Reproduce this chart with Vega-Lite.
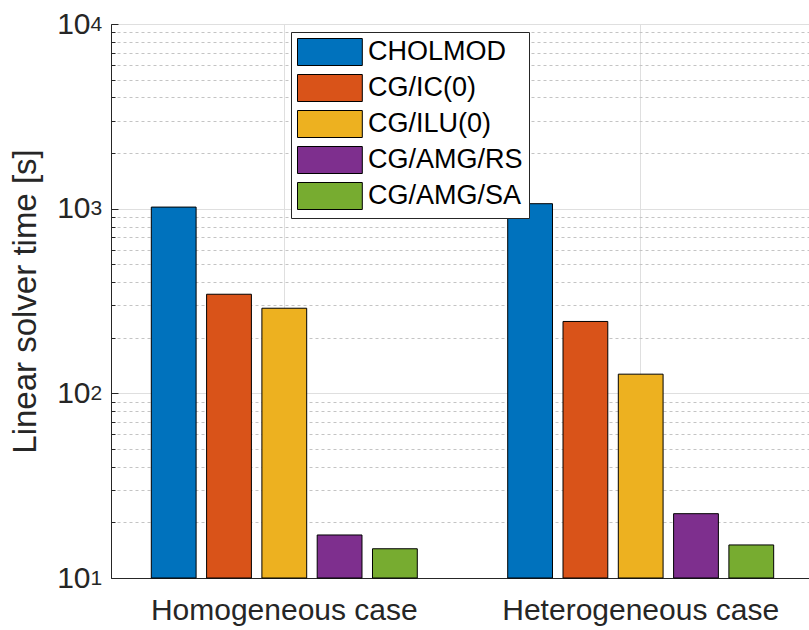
{
  "$schema": "https://vega.github.io/schema/vega-lite/v6.json",
  "width": 698,
  "height": 554,
  "autosize": {"type": "none"},
  "padding": {"left": 111, "top": 24, "right": 0, "bottom": 52},
  "background": "#ffffff",
  "config": {
    "font": "Liberation Sans",
    "view": {"stroke": "#262626", "strokeWidth": 1}
  },
  "data": {
    "values": [
      {"case": "Homogeneous case", "solver": "CHOLMOD", "time": 1020},
      {"case": "Homogeneous case", "solver": "CG/IC(0)", "time": 344},
      {"case": "Homogeneous case", "solver": "CG/ILU(0)", "time": 289},
      {"case": "Homogeneous case", "solver": "CG/AMG/RS", "time": 17.1},
      {"case": "Homogeneous case", "solver": "CG/AMG/SA", "time": 14.4},
      {"case": "Heterogeneous case", "solver": "CHOLMOD", "time": 1064},
      {"case": "Heterogeneous case", "solver": "CG/IC(0)", "time": 245},
      {"case": "Heterogeneous case", "solver": "CG/ILU(0)", "time": 127},
      {"case": "Heterogeneous case", "solver": "CG/AMG/RS", "time": 22.3},
      {"case": "Heterogeneous case", "solver": "CG/AMG/SA", "time": 15.1}
    ]
  },
  "encoding": {
    "x": {
      "field": "case",
      "type": "nominal",
      "sort": ["Homogeneous case", "Heterogeneous case"],
      "scale": {"paddingInner": 0.2537, "paddingOuter": 0.1061, "align": 0.533},
      "axis": {
        "title": null,
        "labelAngle": 0,
        "labelFontSize": 30,
        "labelLimit": 0,
        "labelColor": "#262626",
        "labelPadding": 24,
        "domainColor": "#262626",
        "tickColor": "#262626",
        "tickSize": -7,
        "grid": true,
        "gridColor": "#dfdfdf",
        "gridWidth": 1
      }
    },
    "xOffset": {
      "field": "solver",
      "type": "nominal",
      "sort": ["CHOLMOD", "CG/IC(0)", "CG/ILU(0)", "CG/AMG/RS", "CG/AMG/SA"],
      "scale": {"paddingInner": 0.19, "paddingOuter": 0}
    },
    "y2": {"datum": 10}
  },
  "layer": [
    {
      "mark": {"type": "bar", "opacity": 0},
      "encoding": {
        "y": {
          "field": "time",
          "type": "quantitative",
          "scale": {"type": "log", "domain": [10, 10000], "nice": false},
          "axis": {
            "orient": "left",
            "values": [20, 30, 40, 50, 60, 70, 80, 90, 200, 300, 400, 500, 600, 700, 800, 900, 2000, 3000, 4000, 5000, 6000, 7000, 8000, 9000],
            "labels": false,
            "domain": false,
            "title": null,
            "grid": true,
            "gridColor": "#c4c4c4",
            "gridDash": [3, 3],
            "gridWidth": 1,
            "tickColor": "#262626",
            "tickSize": -4
          }
        }
      }
    },
    {
      "mark": {"type": "bar", "stroke": "#000000", "strokeWidth": 1},
      "encoding": {
        "y": {
          "field": "time",
          "type": "quantitative",
          "scale": {"type": "log", "domain": [10, 10000], "nice": false},
          "axis": {
            "orient": "left",
            "values": [10, 100, 1000, 10000],
            "labelExpr": "'10'",
            "labelFontSize": 30,
            "labelColor": "#262626",
            "labelPadding": 28,
            "labelDy": 4,
            "labelAlign": "right",
            "labelBaseline": "middle",
            "domainColor": "#262626",
            "tickColor": "#262626",
            "tickSize": -7,
            "grid": true,
            "gridColor": "#dfdfdf",
            "gridWidth": 1,
            "title": "Linear solver time [s]",
            "titleFontSize": 33,
            "titleFontWeight": "normal",
            "titleColor": "#262626",
            "titlePadding": 14
          }
        },
        "color": {
          "field": "solver",
          "type": "nominal",
          "sort": ["CHOLMOD", "CG/IC(0)", "CG/ILU(0)", "CG/AMG/RS", "CG/AMG/SA"],
          "scale": {
            "domain": ["CHOLMOD", "CG/IC(0)", "CG/ILU(0)", "CG/AMG/RS", "CG/AMG/SA"],
            "range": ["#0072BD", "#D95319", "#EDB120", "#7E2F8E", "#77AC30"]
          },
          "legend": {
            "orient": "none",
            "legendX": 180,
            "legendY": 8,
            "title": null,
            "symbolType": "M-1,-1H3.8V1H-1Z",
            "symbolSize": 729,
            "symbolStrokeColor": "#000000",
            "symbolStrokeWidth": 1,
            "symbolOpacity": 1,
            "labelFontSize": 27,
            "labelColor": "#000000",
            "labelOffset": 43,
            "rowPadding": 4,
            "padding": 6,
            "strokeColor": "#262626",
            "fillColor": "#ffffff"
          }
        }
      }
    },
    {
      "mark": {"type": "bar", "opacity": 0},
      "encoding": {
        "y": {
          "field": "time",
          "type": "quantitative",
          "scale": {"type": "log", "domain": [10, 10000], "nice": false},
          "axis": {
            "orient": "left",
            "values": [10, 100, 1000, 10000],
            "labelExpr": "datum.value < 50 ? '1' : datum.value < 500 ? '2' : datum.value < 5000 ? '3' : '4'",
            "labelFontSize": 21,
            "labelColor": "#262626",
            "labelAlign": "left",
            "labelBaseline": "middle",
            "labelPadding": 21,
            "labelDy": -5,
            "ticks": true,
            "tickSize": 0,
            "tickOpacity": 0,
            "domain": false,
            "grid": false,
            "title": null
          }
        }
      }
    }
  ],
  "resolve": {"axis": {"y": "independent"}}
}
